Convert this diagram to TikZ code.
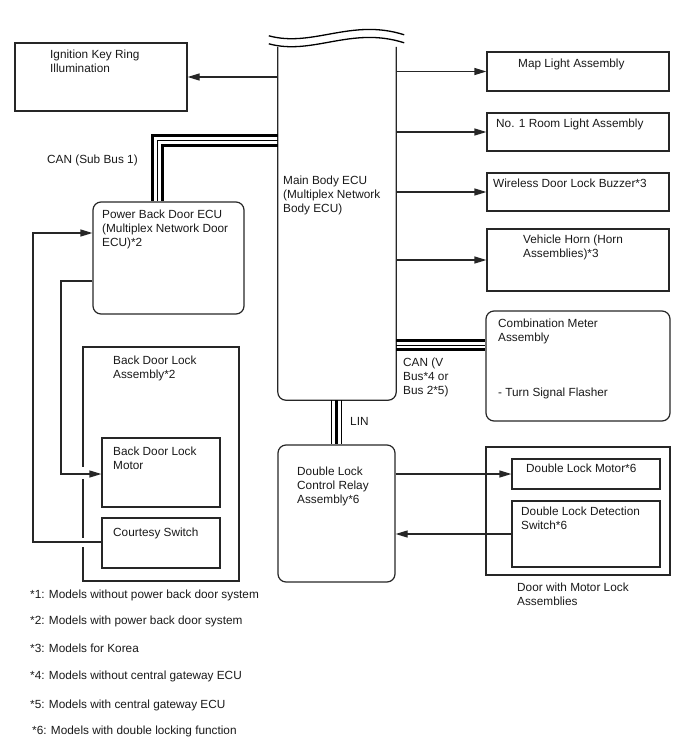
\documentclass[tikz,border=0pt]{standalone}
\usepackage{fontspec}
\setmainfont{Liberation Sans}
\usetikzlibrary{arrows.meta,calc}
\begin{document}
\begin{tikzpicture}[x=1pt,y=-1pt,
  box/.style={draw=black!85,line width=1.2pt,inner sep=0pt,minimum width=#1},
  rbox/.style={box=#1,rounded corners=8pt},
  txt/.style={anchor=north west,inner sep=0pt,align=left,font=\fontsize{11.8}{14}\selectfont,text=black!90},
  arr/.style={draw=black!85,line width=1.2pt,-{Triangle[length=12pt,width=7pt]}},
  conn/.style={draw=black!85,line width=1.2pt},
  busthick/.style={draw=black,line width=3pt},
  busthin/.style={draw=black,line width=1pt}]
\useasboundingbox (0,0) rectangle (688,755);

% boxes
\node[box=172pt,minimum height=68pt] (ign) at (101,77) {};
\node[box=182pt,minimum height=39pt] (map) at (578,71.5) {};
\node[box=182pt,minimum height=38pt] (room) at (578,132) {};
\node[box=182pt,minimum height=38pt] (buzz) at (578,192) {};
\node[box=182pt,minimum height=62pt] (horn) at (578,260) {};
\node[rbox=184pt,minimum height=110pt] (meter) at (578,366) {};
\node[rbox=151pt,minimum height=112pt] (pbd) at (168.5,258) {};
\node[box=156pt,minimum height=234pt] (bdla) at (161,464) {};
\node[box=118pt,minimum height=69pt] (bdlm) at (161,472.5) {};
\node[box=118pt,minimum height=50pt] (cs) at (161,543) {};
\node[rbox=117pt,minimum height=137pt] (relay) at (336.5,513.5) {};
\node[box=184pt,minimum height=128pt] (door) at (578,511) {};
\node[box=148pt,minimum height=30pt] (dlm) at (586,474) {};
\node[box=148pt,minimum height=66pt] (dls) at (586,534) {};

% main body ECU (open top with break lines)
\node[inner sep=0pt,minimum width=118pt,minimum height=353pt] (main) at (337,223.5) {};
\draw[line width=1.2pt,draw=black!85,rounded corners=8pt]
  (main.north west) -- (main.south west) -- (main.south east) -- (main.north east);
\draw[line width=1.3pt] ($(main.north west)+(-9,-11)$) .. controls ($(main.north west)+(35,1)$) and ($(main.north east)+(-45,-29)$) .. ($(main.north east)+(8,-12)$);
\draw[line width=1.3pt] ($(main.north west)+(-9,-3)$) .. controls ($(main.north west)+(35,9)$) and ($(main.north east)+(-45,-21)$) .. ($(main.north east)+(8,-4)$);

% texts
\node[txt] (tign) at (50,50) {Ignition Key Ring\\Illumination};
\node[txt] (tmap) at (518,59) {Map Light Assembly};
\node[txt] (troom) at (496,119) {No. 1 Room Light Assembly};
\node[txt] (tbuzz) at (493,179) {Wireless Door Lock Buzzer*3};
\node[txt] (thorn) at (523,234.5) {Vehicle Horn (Horn\\Assemblies)*3};
\node[txt] (tmeter) at (498,319) {Combination Meter\\Assembly};
\node[txt] (tflash) at (498,388) {- Turn Signal Flasher};
\node[txt] (tcanv) at (403,357.7) {CAN (V\\Bus*4 or\\Bus 2*5)};
\node[txt] (tmain) at (283,175.7) {Main Body ECU\\(Multiplex Network\\Body ECU)};
\node[txt] (tcans) at (47,155) {CAN (Sub Bus 1)};
\node[txt] (tpbd) at (102,210) {Power Back Door ECU\\(Multiplex Network Door\\ECU)*2};
\node[txt] (tbdla) at (113,355.7) {Back Door Lock\\Assembly*2};
\node[txt] (tbdlm) at (113,446.7) {Back Door Lock\\Motor};
\node[txt] (tcs) at (113,527.7) {Courtesy Switch};
\node[txt] (tlin) at (350,416.7) {LIN};
\node[txt] (trelay) at (297,466.7) {Double Lock\\Control Relay\\Assembly*6};
\node[txt] (tdlm) at (526,464) {Double Lock Motor*6};
\node[txt] (tdls) at (521,506.7) {Double Lock Detection\\Switch*6};
\node[txt] (tdoor) at (517,582.7) {Door with Motor Lock\\Assemblies};
\node[txt] (n1) at (30,589.3) {*1: Models without power back door system};
\node[txt] (n2) at (30,616) {*2: Models with power back door system};
\node[txt] (n3) at (30,644) {*3: Models for Korea};
\node[txt] (n4) at (30,670.7) {*4: Models without central gateway ECU};
\node[txt] (n5) at (30,699.3) {*5: Models with central gateway ECU};
\node[txt] (n6) at (32,725.3) {*6: Models with double locking function};

% connectors from main body ECU
\draw[arr] (main.west |- ign.east) -- (ign.east);
\draw[arr] (main.east |- map.west) -- (map.west);
\draw[arr] (main.east |- room.west) -- (room.west);
\draw[arr] (main.east |- buzz.west) -- (buzz.west);
\draw[arr] (main.east |- horn.west) -- (horn.west);

% CAN sub bus 1
\coordinate (ya) at (0,135); \coordinate (yb) at (0,140); \coordinate (yc) at (0,145);
\draw[busthick] (main.west |- ya) -- ($(pbd.north west |- ya)+(60,0)$) -- ($(pbd.north west)+(60,0)$);
\draw[busthin] (main.west |- yb) -- ($(pbd.north west |- yb)+(65,0)$) -- ($(pbd.north west)+(65,0)$);
\draw[busthick] (main.west |- yc) -- ($(pbd.north west |- yc)+(70,0)$) -- ($(pbd.north west)+(70,0)$);

% CAN V bus
\coordinate (yd) at (0,340); \coordinate (ye) at (0,345); \coordinate (yf) at (0,349.5);
\draw[busthick] (main.east |- yd) -- (meter.west |- yd);
\draw[busthin] (main.east |- ye) -- (meter.west |- ye);
\draw[busthick] (main.east |- yf) -- (meter.west |- yf);

% LIN
\coordinate (xa) at (331,0); \coordinate (xb) at (336,0); \coordinate (xc) at (341.5,0);
\draw[busthin] (xa |- main.south) -- (xa |- relay.north);
\draw[busthick] (xb |- main.south) -- (xb |- relay.north);
\draw[busthin] (xc |- main.south) -- (xc |- relay.north);

% double lock
\draw[arr] (relay.east |- dlm.west) -- (dlm.west);
\draw[arr] (dls.west) -- (relay.east |- dls.west);

% left side loops
\fill[white] (81,467) rectangle (85,479);
\fill[white] (81,538) rectangle (85,547);
\coordinate (ycs) at (0,542); \coordinate (ypin) at (0,233);
\coordinate (ypout) at (0,281); \coordinate (ymot) at (0,474);
\coordinate (xo) at (33,0); \coordinate (xi) at (61,0);
\draw[arr] (cs.west |- ycs) -- (xo |- ycs) -- (xo |- ypin) -- (pbd.west |- ypin);
\draw[arr] (pbd.west |- ypout) -- (xi |- ypout) -- (xi |- ymot) -- (bdlm.west |- ymot);
\end{tikzpicture}
\end{document}
